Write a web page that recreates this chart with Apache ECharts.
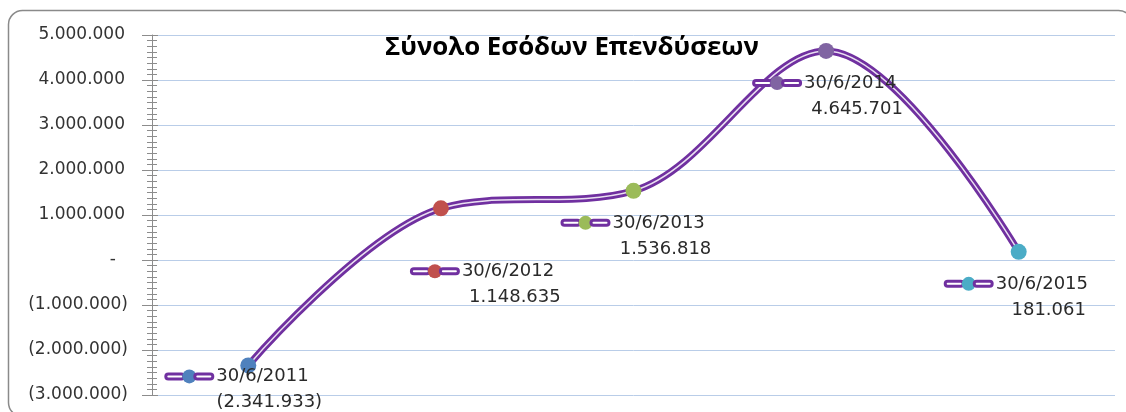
<!DOCTYPE html>
<html>
<head>
<meta charset="utf-8">
<script src="https://cdn.jsdelivr.net/npm/echarts@6/dist/echarts.min.js"></script>
<style>html,body{margin:0;padding:0;background:#fff;}#c{width:1126px;height:412px;}</style>
</head>
<body>
<div id="c"></div>
<script>
// ---- data ----
const categories = ['30/6/2011', '30/6/2012', '30/6/2013', '30/6/2014', '30/6/2015'];
const values = [-2341933, 1148635, 1536818, 4645701, 181061];
const titleText = 'Σύνολο Εσόδων Επενδύσεων';
const yMin = -3000000, yMax = 5000000, yStep = 1000000;

// ---- styles ----
const markerColors = ['#4F81BD', '#C0504D', '#9BBB59', '#8064A2', '#4BACC6'];
const labelPos = [[-73, 6], [-20, 58], [-62, 27], [-63, 27], [-64, 27]];
const purple = '#7030A0';
const FONT = 'DejaVu Sans';
const LF = 18;

function dots(n) {
  return Math.abs(Math.round(n)).toString().replace(/\B(?=(\d{3})+(?!\d))/g, '.');
}
function acct(v) {
  if (v === 0) return '-';
  return v < 0 ? '(' + dots(v) + ')' : dots(v);
}

const rich = {
  kl: { width: 15, height: 2, backgroundColor: '#fff', borderColor: purple, borderWidth: 3, borderRadius: 3, lineHeight: 26 },
  kr: { width: 15, height: 2, backgroundColor: '#fff', borderColor: purple, borderWidth: 3, borderRadius: 3, lineHeight: 26 },
  d: { fontFamily: FONT, fontSize: LF, color: '#2a2a2a', width: 94, align: 'left', lineHeight: 26 },
  v: { fontFamily: FONT, fontSize: LF, color: '#2a2a2a', width: 94, align: 'center', lineHeight: 26 },
  sp: { width: 55, lineHeight: 26 },
  gap: { width: 5, lineHeight: 26 }
};
markerColors.forEach((c, i) => {
  rich['kd' + i] = { width: 14, height: 14, borderRadius: 7, backgroundColor: c, lineHeight: 26 };
});

const dataItems = values.map((v, i) => ({
  value: v,
  itemStyle: { color: markerColors[i] },
  label: { position: labelPos[i] }
}));

const chart = echarts.init(document.getElementById('c'), null, { renderer: 'canvas' });
chart.setOption({
  animation: false,
  backgroundColor: '#fff',
  title: {
    text: titleText,
    left: 567, top: 30, textAlign: 'center',
    textStyle: { fontFamily: 'Open Sans', fontWeight: 'bold', fontSize: 25.8, color: '#000' }
  },
  graphic: [{
    type: 'rect', silent: true, z: -1,
    shape: { x: 8.5, y: 10.5, width: 1124, height: 406, r: 14 },
    style: { fill: 'none', stroke: '#8a8a8a', lineWidth: 1.5 }
  }],
  grid: { left: 152, right: 11, top: 35, bottom: 17 },
  xAxis: {
    type: 'category', data: categories, boundaryGap: true,
    axisLine: { show: false }, axisTick: { show: false }, axisLabel: { show: false }, splitLine: { show: false }
  },
  yAxis: [{
    type: 'value', min: yMin, max: yMax, interval: yStep, position: 'left',
    axisLine: { show: true, lineStyle: { color: '#8c8c8c', width: 1 } },
    axisTick: { show: true, length: 10, lineStyle: { color: '#8c8c8c' } },
    minorTick: { show: true, splitNumber: 8, length: 5, lineStyle: { color: '#8c8c8c' } },
    splitLine: { show: true, lineStyle: { color: '#B9CDE8', width: 1 } },
    axisLabel: {
      margin: 24, fontFamily: FONT, fontSize: 17, color: '#333',
      formatter: v => v === 0 ? '{z|-}' : (v > 0 ? '{p|' + acct(v) + '}' : acct(v)),
      rich: {
        z: { fontFamily: FONT, fontSize: 17, color: '#333', padding: [0, 12, 0, 0] },
        p: { fontFamily: FONT, fontSize: 17, color: '#333', padding: [0, 3, 0, 0] }
      }
    }
  }, {
    type: 'value', min: yMin, max: yMax, interval: yStep, position: 'left',
    axisLine: { show: false },
    axisTick: { show: true, inside: true, length: 6, lineStyle: { color: '#8c8c8c' } },
    minorTick: { show: true, splitNumber: 8, length: 5, lineStyle: { color: '#8c8c8c' } },
    splitLine: { show: false },
    axisLabel: { show: false }
  }],
  series: [{
    type: 'line', data: values, smooth: 0.35, symbol: 'none', z: 2,
    lineStyle: { color: purple, width: 7 }, silent: true
  }, {
    type: 'line', data: dataItems, smooth: 0.35, symbol: 'circle', symbolSize: 16, z: 3,
    lineStyle: { color: 'rgba(255,255,255,0.85)', width: 1.5 },
    label: {
      show: true, align: 'left', verticalAlign: 'top',
      formatter: p => '{kl|}{kd' + p.dataIndex + '|}{kr|}{gap|}{d|' + p.name + '}\n{sp|}{v|' + acct(p.value) + '}',
      rich: rich
    },
    emphasis: { disabled: true }
  }]
});
</script>
</body>
</html>
